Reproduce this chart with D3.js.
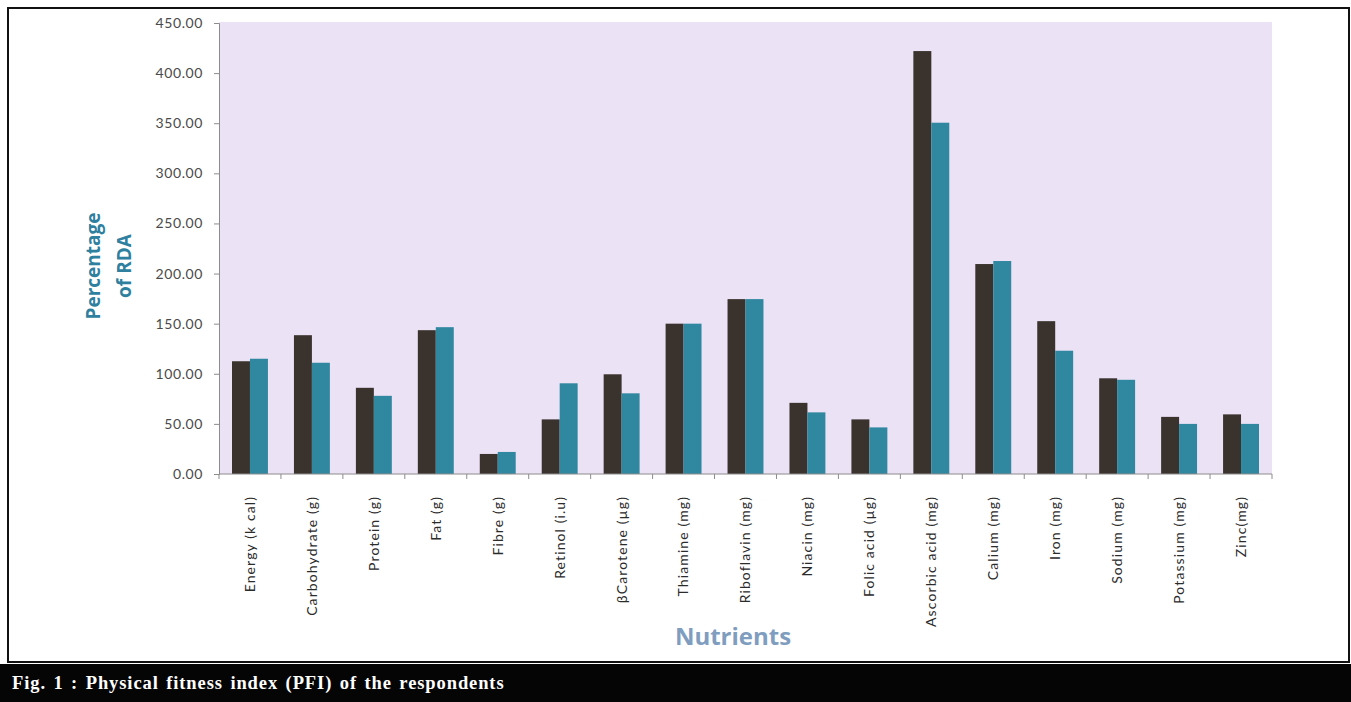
<!DOCTYPE html>
<html>
<head>
<meta charset="utf-8">
<script src="https://cdn.jsdelivr.net/npm/d3@7"></script>
<style>
  body{margin:0;background:#fff;}
  svg{display:block;}
</style>
</head>
<body>
<svg id="chart" width="1351" height="702"></svg>
<script>
// nutrient categories and the two series (% of RDA)
let nutrients=["Energy (k cal)","Carbohydrate (g)","Protein (g)","Fat (g)","Fibre (g)","Retinol (i.u)",
  "\u03B2Carotene (\u00B5g)","Thiamine (mg)","Riboflavin (mg)","Niacin (mg)","Folic acid (\u00B5g)",
  "Ascorbic acid (mg)","Calium (mg)","Iron (mg)","Sodium (mg)","Potassium (mg)","Zinc(mg)"];
let series1=[112.5,138.5,86,143.5,20,54.5,99.5,150,174.5,71,54.5,422,209.5,152.5,95.5,57,59.5];
let series2=[115,111,78,146.5,22,90.5,80.5,150,174.5,61.5,46.5,350.5,212.5,123,94,50,50];
let yTicks=[0,50,100,150,200,250,300,350,400,450];

let svg=d3.select("#chart");

let plotLeft=219, plotRight=1272, plotTop=23, plotBottom=474;

// outer frame and caption strip
svg.append("rect")
  .attr("x",8).attr("y",8).attr("width",1341).attr("height",654)
  .attr("fill","#fff").attr("stroke","#111").attr("stroke-width",2);
svg.append("rect")
  .attr("x",0).attr("y",664).attr("width",1351).attr("height",38)
  .attr("fill","#050505");
svg.append("text")
  .attr("x",12).attr("y",689)
  .attr("fill","#fff")
  .style("font-family","'Liberation Serif','DejaVu Serif',serif")
  .style("font-weight","bold")
  .style("font-size","18.5px")
  .style("letter-spacing","0.9px")
  .style("word-spacing","2px")
  .text("Fig. 1 : Physical fitness index (PFI) of the respondents");

// plot background
svg.append("rect")
  .attr("x",plotLeft).attr("y",plotTop-1).attr("width",plotRight-plotLeft).attr("height",plotBottom-plotTop+1)
  .attr("fill","#ece2f6");

let xScale=d3.scaleBand().domain(nutrients).range([plotLeft,plotRight]).paddingInner(0.42).paddingOuter(0.21);
let xSub=d3.scaleBand().domain([0,1]).range([0,xScale.bandwidth()]);
let yScale=d3.scaleLinear().domain([0,450]).range([plotBottom,plotTop]);

let groups=svg.append("g").selectAll("g")
  .data(nutrients)
  .enter().append("g")
  .attr("transform",function(d){return "translate("+xScale(d)+",0)"});

groups.append("rect")
  .attr("x",xSub(0))
  .attr("width",xSub.bandwidth())
  .attr("y",function(d,i){return yScale(series1[i])})
  .attr("height",function(d,i){return plotBottom-yScale(series1[i])})
  .attr("fill","#3a332d");

groups.append("rect")
  .attr("x",xSub(1))
  .attr("width",xSub.bandwidth())
  .attr("y",function(d,i){return yScale(series2[i])})
  .attr("height",function(d,i){return plotBottom-yScale(series2[i])})
  .attr("fill","#2f87a0");

// y axis
let yAxis=svg.append("g")
  .attr("transform","translate("+plotLeft+",0)")
  .call(d3.axisLeft(yScale).tickValues(yTicks).tickFormat(d3.format(".2f")).tickSize(5).tickPadding(11).tickSizeOuter(5));
yAxis.select(".domain").attr("stroke","#8c8c8c");
yAxis.selectAll(".tick line").attr("stroke","#8c8c8c");
yAxis.selectAll("text")
  .attr("fill","#4a4a4a")
  .style("font-family","Lato,'Liberation Sans',sans-serif")
  .style("font-size","14px")
  .style("letter-spacing","0.6px");

// x axis line with ticks at category boundaries
let step=xScale.step();
svg.append("line")
  .attr("x1",plotLeft).attr("x2",plotRight).attr("y1",plotBottom).attr("y2",plotBottom)
  .attr("stroke","#8c8c8c");
svg.append("g").selectAll("line")
  .data(d3.range(nutrients.length+1))
  .enter().append("line")
  .attr("x1",function(d){return plotLeft+d*step})
  .attr("x2",function(d){return plotLeft+d*step})
  .attr("y1",plotBottom).attr("y2",plotBottom+5)
  .attr("stroke","#8c8c8c");

svg.append("g").selectAll("text")
  .data(nutrients)
  .enter().append("text")
  .attr("transform",function(d){return "translate("+(xScale(d)+xScale.bandwidth()/2)+",496) rotate(-90)"})
  .attr("dy","0.35em")
  .attr("text-anchor","end")
  .attr("fill","#2b2b2b")
  .style("font-family","Lato,'Liberation Sans',sans-serif")
  .style("font-size","14px")
  .style("letter-spacing","1.1px")
  .text(function(d){return d});

// axis titles
let yTitle=svg.append("text")
  .attr("transform","translate(100,266) rotate(-90)")
  .attr("text-anchor","middle")
  .attr("fill","#2f7f9f")
  .style("font-family","'Open Sans',Lato,sans-serif")
  .style("font-weight","bold")
  .style("font-size","19px");
yTitle.append("tspan").attr("x",0).attr("dy",0).text("Percentage");
yTitle.append("tspan").attr("x",0).attr("dy",31).text("of RDA");

svg.append("text")
  .attr("x",733).attr("y",645)
  .attr("text-anchor","middle")
  .attr("fill","#7f9dbf")
  .style("font-family","'Open Sans',Lato,sans-serif")
  .style("font-weight","bold")
  .style("font-size","24px")
  .text("Nutrients");
</script>
</body>
</html>
